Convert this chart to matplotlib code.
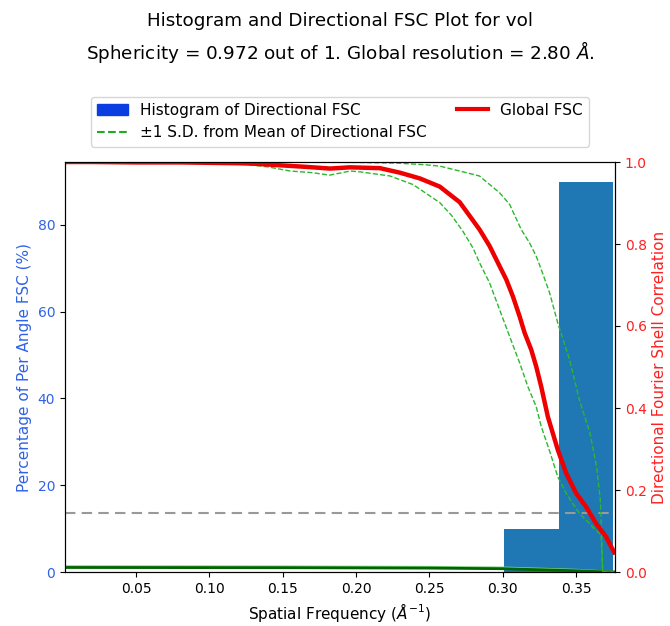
import matplotlib
matplotlib.use("Agg")
import matplotlib.pyplot as plt
from matplotlib.patches import Patch
from matplotlib.lines import Line2D

# ---- data ----
hist_edges = [0.301, 0.338, 0.375]
hist_percent = [10, 90]

fsc_freq = [0.0015, 0.02, 0.05, 0.08, 0.10, 0.12, 0.13, 0.1436, 0.1663, 0.1822, 0.1958,
            0.2162, 0.2298, 0.2434, 0.2570, 0.2706, 0.2842, 0.2910, 0.2978, 0.3024,
            0.3069, 0.3115, 0.3149, 0.3194, 0.3228, 0.3262, 0.3307, 0.3375, 0.3432,
            0.3500, 0.3568, 0.3636, 0.3704, 0.3749, 0.3760]
fsc_global = [1.0, 1.0, 0.999, 0.999, 0.998, 0.997, 0.996, 0.993, 0.988, 0.984, 0.987,
              0.985, 0.974, 0.960, 0.940, 0.902, 0.835, 0.795, 0.746, 0.713,
              0.672, 0.623, 0.583, 0.542, 0.501, 0.452, 0.379, 0.298, 0.241,
              0.192, 0.159, 0.118, 0.086, 0.055, 0.048]

low_freq = [0.0015, 0.05, 0.10, 0.123, 0.14, 0.155, 0.170, 0.182, 0.196, 0.2026, 0.223,
            0.2388, 0.257, 0.265, 0.2726, 0.2797, 0.2842, 0.291, 0.2978, 0.3046, 0.3115,
            0.3171, 0.3228, 0.3262, 0.3319, 0.3375, 0.3432, 0.3522, 0.3613, 0.3670,
            0.3681, 0.3760]
sd_low = [1.0, 1.0, 0.998, 0.995, 0.988, 0.978, 0.974, 0.968, 0.978, 0.976, 0.966,
          0.945, 0.901, 0.870, 0.832, 0.790, 0.754, 0.705, 0.640, 0.575, 0.510,
          0.452, 0.403, 0.355, 0.295, 0.232, 0.192, 0.143, 0.110, 0.090,
          0.0, 0.0]

up_freq = [0.0015, 0.10, 0.20, 0.23, 0.248, 0.257, 0.2706, 0.284, 0.2978, 0.3046, 0.3126,
           0.3182, 0.3228, 0.3262, 0.3319, 0.3375, 0.3455, 0.3522, 0.3594, 0.3640, 0.3665,
           0.3674, 0.3681, 0.3760]
sd_up = [1.0, 1.0, 0.999, 0.997, 0.993, 0.990, 0.978, 0.966, 0.925, 0.897, 0.835,
         0.803, 0.770, 0.738, 0.681, 0.607, 0.518, 0.42, 0.339, 0.256, 0.175,
         0.094, 0.0, 0.0]

base_freq = [0.0015, 0.15, 0.25, 0.30, 0.35, 0.3681, 0.376]
base_dark = [0.011, 0.0105, 0.0095, 0.008, 0.003, 0.0005, 0.0]
base_light = [0.013, 0.0125, 0.0115, 0.010, 0.0045, 0.001, 0.0]

threshold = 0.143
xlim = (0.0015, 0.3765)

title1 = "Histogram and Directional FSC Plot for vol"
title2 = "Sphericity = 0.972 out of 1. Global resolution = 2.80 $\\AA$."

blue_lab = '#2f62e6'

fig = plt.figure(figsize=(6.7, 6.26), dpi=100)
ax1 = fig.add_axes([65/670, 1-572/626, 550/670, 410/626])

widths = [hist_edges[i+1]-hist_edges[i] for i in range(len(hist_percent))]
ax1.bar(hist_edges[:-1], hist_percent, width=widths, align='edge', color='#1f77b4',
        edgecolor='none', zorder=1)
ax1.set_xlim(*xlim)
ax1.set_ylim(0, max(hist_percent)*1.05)
ax1.set_ylabel("Percentage of Per Angle FSC (%)", color=blue_lab, fontsize=11)
ax1.tick_params(axis='y', labelcolor=blue_lab, labelsize=10)
ax1.tick_params(axis='x', labelsize=10)
ax1.set_xlabel("Spatial Frequency ($\\AA^{-1}$)", fontsize=11)
ax1.set_yticks([0, 20, 40, 60, 80])

ax2 = ax1.twinx()
ax2.plot(base_freq, base_light, color='#7fd07f', lw=2.0)
ax2.plot(base_freq, base_dark, color='#006400', lw=2.0)
ax2.axhline(threshold, color='#999999', ls='--', lw=1.5, dashes=(5, 3))
ax2.plot(low_freq, sd_low, color='#2cb82c', ls='--', lw=1.0)
ax2.plot(up_freq, sd_up, color='#2cb82c', ls='--', lw=1.0)
ax2.plot(fsc_freq, fsc_global, color='#ee0000', lw=3.2)
ax2.set_ylim(0, 1)
ax2.set_xlim(*xlim)
ax2.set_ylabel("Directional Fourier Shell Correlation", color='#ff2020', fontsize=11)
ax2.tick_params(axis='y', labelcolor='#ff2020', labelsize=10)

handles = [Patch(color='#0a3ee0'),
           Line2D([], [], color='#22aa22', ls='--', lw=1.5),
           Line2D([], [], color='#ee0000', lw=3)]
labels = ["Histogram of Directional FSC", "\u00b11 S.D. from Mean of Directional FSC", "Global FSC"]
fig.legend(handles, labels, loc='upper center', bbox_to_anchor=(340/670, 1-89/626),
           ncol=2, fontsize=11)

fig.text(340/670, 1-21/626, title1, ha='center', va='center', fontsize=13.2)
fig.text(340/670, 1-52/626, title2, ha='center', va='center', fontsize=13.2)

fig.savefig("out.png", dpi=100)
